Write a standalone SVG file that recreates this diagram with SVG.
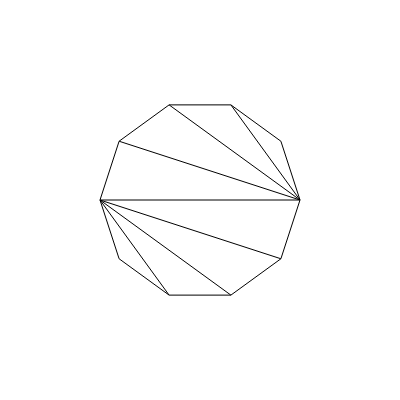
<svg xmlns="http://www.w3.org/2000/svg" width="400" height="400" viewBox="0 0 400 400">
<style>
.e{fill:none;stroke:#000;stroke-width:1}
</style>
<rect width="400" height="400" fill="#fff"/>
<g id="decagon">
<polygon class="e" points="300,200 280.9,141.22 230.9,104.89 169.1,104.89 119.1,141.22 100,200 119.1,258.78 169.1,295.11 230.9,295.11 280.9,258.78"/>
</g>
<g id="diagonals" class="e">
<line x1="300" y1="200" x2="230.9" y2="104.89"/>
<line x1="300" y1="200" x2="169.1" y2="104.89"/>
<line x1="300" y1="200" x2="119.1" y2="141.22"/>
<line x1="300" y1="200" x2="100" y2="200"/>
<line x1="100" y1="200" x2="280.9" y2="258.78"/>
<line x1="100" y1="200" x2="230.9" y2="295.11"/>
<line x1="100" y1="200" x2="169.1" y2="295.11"/>
</g>
</svg>
